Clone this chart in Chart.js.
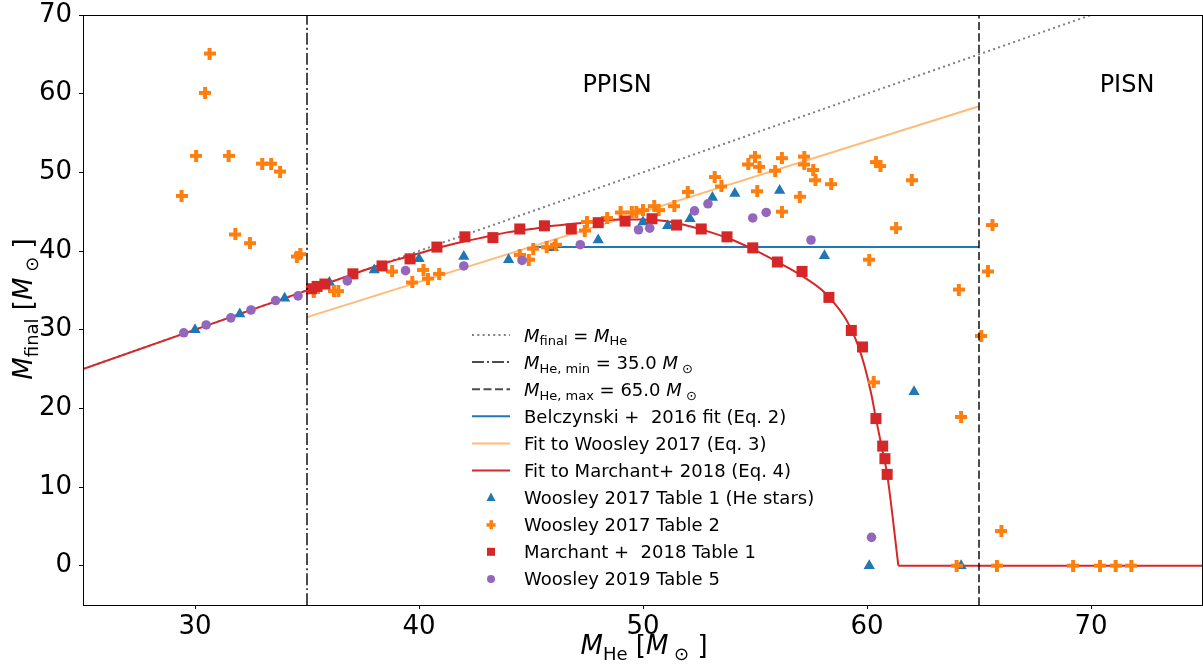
<!DOCTYPE html>
<html>
<head>
<meta charset="utf-8">
<script src="https://cdn.jsdelivr.net/npm/chart.js@4.4.0/dist/chart.umd.min.js"></script>
<style>
  html, body { margin: 0; padding: 0; background: #fff; overflow: hidden; }
  #wrap { width: 1203px; height: 668px; }
  canvas { display: block; }
</style>
</head>
<body>
<div id="wrap"><canvas id="myChart" width="1203" height="668"></canvas></div>
<script>
// values
const xTicks = [30, 40, 50, 60, 70];
const yTicks = [0, 10, 20, 30, 40, 50, 60, 70];

// Woosley 2017 Table 1 (He stars)
const w17t1X = [30, 32, 34, 36, 38, 40, 42, 44, 46, 48, 50, 51.1, 52.1, 53.1, 54.1, 56.1, 58.1, 60.1, 62.1, 64.2];
const w17t1Y = [30.0, 32.0, 34.0, 36.0, 37.6, 39.0, 39.3, 38.9, 40.4, 41.4, 43.7, 43.2, 44.1, 46.8, 47.3, 47.7, 39.4, 0, 22.1, 0];

// Woosley 2017 Table 2
const w17t2X = [29.4, 30.05, 30.45, 30.65, 31.5, 31.8, 32.45, 33.0, 33.4, 33.8, 34.55, 34.7, 35.3, 36.2, 36.4,
  38.8, 39.7, 40.2, 40.4, 40.9, 44.5, 44.9, 45.1, 45.7, 46.1, 47.4, 47.5, 48.4, 49.0, 49.5, 49.7, 50.0, 50.5, 50.7,
  51.4, 52.0, 53.2, 53.5, 54.7, 55.0, 55.2, 55.9, 56.2, 55.1, 56.2, 57.0, 57.2, 57.2, 57.6, 57.7, 58.4, 60.4, 60.6,
  61.3, 60.1, 62.0, 65.6, 65.4, 64.1, 65.1, 60.3, 64.2, 66.0, 64.0, 65.8, 69.2, 70.4, 71.1, 71.8];
const w17t2Y = [47.0, 52.1, 60.1, 65.1, 52.1, 42.1, 41.0, 51.1, 51.1, 50.1, 39.3, 39.6, 34.8, 34.9, 34.9,
  37.4, 36.0, 37.6, 36.5, 37.1, 39.5, 38.9, 40.3, 40.5, 40.8, 42.6, 43.7, 44.2, 44.9, 44.9, 44.9, 45.2, 45.7, 45.2,
  45.7, 47.5, 49.4, 48.2, 51.0, 52.0, 50.7, 50.2, 51.8, 47.6, 45.0, 46.9, 52.0, 51.0, 50.3, 49.0, 48.5, 51.3, 50.8,
  42.9, 38.9, 49.0, 43.3, 37.4, 35.1, 29.2, 23.3, 18.9, 4.4, 0, 0, 0, 0, 0, 0];

// Marchant+ 2018 Table 1
const m18X = [35.2, 35.45, 35.8, 37.05, 38.35, 39.6, 40.8, 42.05, 43.3, 44.5, 45.6, 46.8, 48.0, 49.2, 50.4, 51.5,
  52.6, 53.75, 54.9, 56.0, 57.1, 58.3, 59.3, 59.8, 60.4, 60.7, 60.8, 60.9];
const m18Y = [35.2, 35.5, 35.8, 37.1, 38.1, 39.0, 40.5, 41.8, 41.7, 42.8, 43.2, 42.8, 43.6, 43.8, 44.1, 43.3,
  42.8, 41.8, 40.4, 38.6, 37.4, 34.1, 29.9, 27.8, 18.7, 15.2, 13.6, 11.6];

// Woosley 2019 Table 5
const w19X = [29.5, 30.5, 31.6, 32.5, 33.6, 34.6, 36.8, 39.4, 42.0, 44.6, 47.2, 49.8, 50.3, 52.3, 52.9, 54.9, 55.5, 57.5, 60.2];
const w19Y = [29.6, 30.6, 31.5, 32.5, 33.7, 34.3, 36.2, 37.5, 38.1, 38.8, 40.8, 42.7, 42.9, 45.1, 46.0, 44.2, 44.9, 41.4, 3.6];

// lines
const identX = [25, 75];
const identY = [25, 75];
const minX = [35, 35];
const maxX = [65, 65];
const vertY = [-5, 70];
const belczX = [45, 65];
const belczY = [40.5, 40.5];
const woosFitX = [35, 65];
const woosFitY = [31.6, 58.4];
const marchFitX = [25, 35, 36, 37, 38, 39, 40, 41, 42, 43, 44, 45, 46, 47, 48, 49, 50, 51, 52, 53, 54, 55, 56, 57,
  58, 58.5, 59, 59.3, 59.6, 59.9, 60.2, 60.4, 60.65, 60.9, 61.4];
const marchFitY = [25, 35, 36, 37, 38, 38.9, 39.7, 40.5, 41.2, 41.8, 42.4, 42.8, 43.2, 43.5, 43.8, 44.0, 44.0, 43.8,
  43.2, 42.4, 41.4, 40.1, 38.6, 37.0, 35.0, 33.5, 31.6, 30.0, 28.0, 25.3, 21.7, 18.7, 15.2, 11.6, 0];
const marchZeroX = [61.4, 75];
const marchZeroY = [0, 0];

const pts = (xs, ys) => xs.map((x, i) => ({ x: x, y: ys[i] }));

// filled plus marker (matplotlib 'P')
function plusMarker(color, s, t) {
  const c = document.createElement('canvas');
  c.width = s; c.height = s;
  const g = c.getContext('2d');
  g.fillStyle = color;
  const o = (s - t) / 2;
  g.fillRect(0, o, s, t);
  g.fillRect(o, 0, t, s);
  return c;
}
const plusImg = plusMarker('#ff7f0e', 12, 4);

const FONT = "'DejaVu Sans', sans-serif";

// mixed text: parts = [[text, style]], style i = italic, r = roman, s = subscript
function fontFor(st, size) {
  if (st === 'i') return 'italic ' + size + 'px ' + FONT;
  if (st === 's') return Math.round(size * 0.7) + 'px ' + FONT;
  return size + 'px ' + FONT;
}
function richWidth(ctx, parts, size) {
  let w = 0;
  parts.forEach(p => {
    ctx.font = fontFor(p[1], size);
    w += ctx.measureText(p[0]).width;
  });
  return w;
}
function drawRich(ctx, parts, x, y, size, align) {
  let cx = x;
  if (align === 'center') cx = x - richWidth(ctx, parts, size) / 2;
  ctx.textAlign = 'left';
  ctx.textBaseline = 'alphabetic';
  parts.forEach(p => {
    ctx.font = fontFor(p[1], size);
    const dy = p[1] === 's' ? size * 0.22 : 0;
    ctx.fillText(p[0], cx, y + dy);
    cx += ctx.measureText(p[0]).width;
  });
}

const legendItems = [
  { kind: 'line', color: '#808080', dash: [2, 3.3], width: 2,
    text: [['M', 'i'], ['final', 's'], [' = ', 'r'], ['M', 'i'], ['He', 's']] },
  { kind: 'line', color: 'rgba(0,0,0,0.7)', dash: [12, 3, 2, 3], width: 2,
    text: [['M', 'i'], ['He, min', 's'], [' = 35.0 ', 'r'], ['M', 'i'], [' \u2299', 's']] },
  { kind: 'line', color: 'rgba(0,0,0,0.7)', dash: [8, 3.5], width: 2,
    text: [['M', 'i'], ['He, max', 's'], [' = 65.0 ', 'r'], ['M', 'i'], [' \u2299', 's']] },
  { kind: 'line', color: '#1f77b4', width: 2, text: [['Belczynski +  2016 fit (Eq. 2)', 'r']] },
  { kind: 'line', color: '#ffbb78', width: 2, text: [['Fit to Woosley 2017 (Eq. 3)', 'r']] },
  { kind: 'line', color: '#d62728', width: 2, text: [['Fit to Marchant+ 2018 (Eq. 4)', 'r']] },
  { kind: 'tri', color: '#1f77b4', text: [['Woosley 2017 Table 1 (He stars)', 'r']] },
  { kind: 'plus', color: '#ff7f0e', text: [['Woosley 2017 Table 2', 'r']] },
  { kind: 'sq', color: '#d62728', text: [['Marchant +  2018 Table 1', 'r']] },
  { kind: 'dot', color: '#9467bd', text: [['Woosley 2019 Table 5', 'r']] }
];

const extras = {
  id: 'extras',
  afterDraw(chart) {
    const ctx = chart.ctx;
    const a = chart.chartArea;
    ctx.save();
    // frame
    ctx.strokeStyle = '#000';
    ctx.lineWidth = 1;
    ctx.strokeRect(a.left + 0.5, a.top + 0.5, a.right - a.left - 1, a.bottom - a.top);

    ctx.fillStyle = '#000';
    ctx.font = '24px ' + FONT;
    ctx.textAlign = 'center';
    ctx.textBaseline = 'alphabetic';
    ctx.fillText('PPISN', 617, 92);
    ctx.fillText('PISN', 1127, 92);

    // axis titles
    const sun = [[' [', 'r'], ['M', 'i'], [' \u2299', 's'], [' ]', 'r']];
    drawRich(ctx, [['M', 'i'], ['He', 's']].concat(sun), 644, 654, 26, 'center');
    ctx.save();
    ctx.translate(32, 309);
    ctx.rotate(-Math.PI / 2);
    drawRich(ctx, [['M', 'i'], ['final', 's']].concat(sun), 0, 0, 26, 'center');
    ctx.restore();

    // legend
    legendItems.forEach((it, i) => {
      const y = 335 + i * 27.1;
      const x0 = 472, x1 = 510, xm = 491;
      ctx.fillStyle = it.color;
      ctx.strokeStyle = it.color;
      if (it.kind === 'line') {
        ctx.lineWidth = it.width;
        ctx.setLineDash(it.dash || []);
        ctx.beginPath();
        ctx.moveTo(x0, y);
        ctx.lineTo(x1, y);
        ctx.stroke();
        ctx.setLineDash([]);
      } else if (it.kind === 'tri') {
        ctx.beginPath();
        ctx.moveTo(xm, y - 5);
        ctx.lineTo(xm + 4.5, y + 3.5);
        ctx.lineTo(xm - 4.5, y + 3.5);
        ctx.closePath();
        ctx.fill();
      } else if (it.kind === 'plus') {
        ctx.fillRect(xm - 4.5, y - 1.5, 9, 3.5);
        ctx.fillRect(xm - 1.5, y - 4.5, 3.5, 9);
      } else if (it.kind === 'sq') {
        ctx.fillRect(xm - 4, y - 4, 8, 8);
      } else {
        ctx.beginPath();
        ctx.arc(xm, y, 4, 0, Math.PI * 2);
        ctx.fill();
      }
      ctx.fillStyle = '#000';
      drawRich(ctx, it.text, 524, y + 6.5, 18, 'left');
    });
    ctx.restore();
  }
};

const lineDs = (label, xs, ys, color, dash, order) => ({
  label: label,
  data: pts(xs, ys),
  showLine: true,
  borderColor: color,
  borderWidth: 2,
  borderDash: dash,
  pointRadius: 0,
  fill: false,
  cubicInterpolationMode: 'monotone',
  order: order
});

new Chart(document.getElementById('myChart'), {
  type: 'scatter',
  data: {
    datasets: [
      lineDs('identity', identX, identY, '#808080', [2, 3.3], 20),
      lineDs('min', minX, vertY, 'rgba(0,0,0,0.7)', [12, 3, 2, 3], 5),
      lineDs('max', maxX, vertY, 'rgba(0,0,0,0.7)', [8, 3.5], 5),
      lineDs('Belczynski', belczX, belczY, '#1f77b4', [], 19),
      lineDs('Woosley fit', woosFitX, woosFitY, '#ffbb78', [], 18),
      lineDs('Marchant fit', marchFitX, marchFitY, '#d62728', [], 17),
      lineDs('Marchant fit zero', marchZeroX, marchZeroY, '#d62728', [], 17),
      {
        label: 'Woosley 2017 Table 1', data: pts(w17t1X, w17t1Y),
        pointStyle: 'triangle', pointRadius: 6.5, backgroundColor: '#1f77b4', borderWidth: 0, order: 10
      },
      {
        label: 'Woosley 2017 Table 2', data: pts(w17t2X, w17t2Y),
        pointStyle: plusImg, pointRadius: 6, backgroundColor: '#ff7f0e', borderWidth: 0, order: 9
      },
      {
        label: 'Marchant 2018 Table 1', data: pts(m18X, m18Y),
        pointStyle: 'rect', pointRadius: 7.8, backgroundColor: '#d62728', borderWidth: 0, order: 8
      },
      {
        label: 'Woosley 2019 Table 5', data: pts(w19X, w19Y),
        pointStyle: 'circle', pointRadius: 4.8, backgroundColor: '#9467bd', borderWidth: 0, order: 7
      }
    ]
  },
  options: {
    responsive: false,
    animation: false,
    devicePixelRatio: 1,
    layout: { autoPadding: false, padding: { top: 15, right: 0, left: 0, bottom: 0 } },
    plugins: { legend: { display: false }, tooltip: { enabled: false } },
    scales: {
      x: {
        type: 'linear', min: 25, max: 75,
        afterBuildTicks: s => { s.ticks = xTicks.map(v => ({ value: v })); },
        afterFit: s => { s.height = 63; s.paddingLeft = 0; s.paddingRight = 0; },
        grid: { drawOnChartArea: false, tickLength: 4, color: '#000' },
        border: { color: '#000', width: 1 },
        ticks: { color: '#000', font: { family: 'DejaVu Sans', size: 26 }, padding: 3, maxRotation: 0 }
      },
      y: {
        type: 'linear', min: -5, max: 70,
        afterBuildTicks: s => { s.ticks = yTicks.map(v => ({ value: v })); },
        afterFit: s => { s.width = 83; s.paddingTop = 0; s.paddingBottom = 0; },
        grid: { drawOnChartArea: false, tickLength: 4, color: '#000' },
        border: { color: '#000', width: 1 },
        ticks: { color: '#000', font: { family: 'DejaVu Sans', size: 26 }, padding: 7 }
      }
    }
  },
  plugins: [extras]
});
</script>
</body>
</html>
